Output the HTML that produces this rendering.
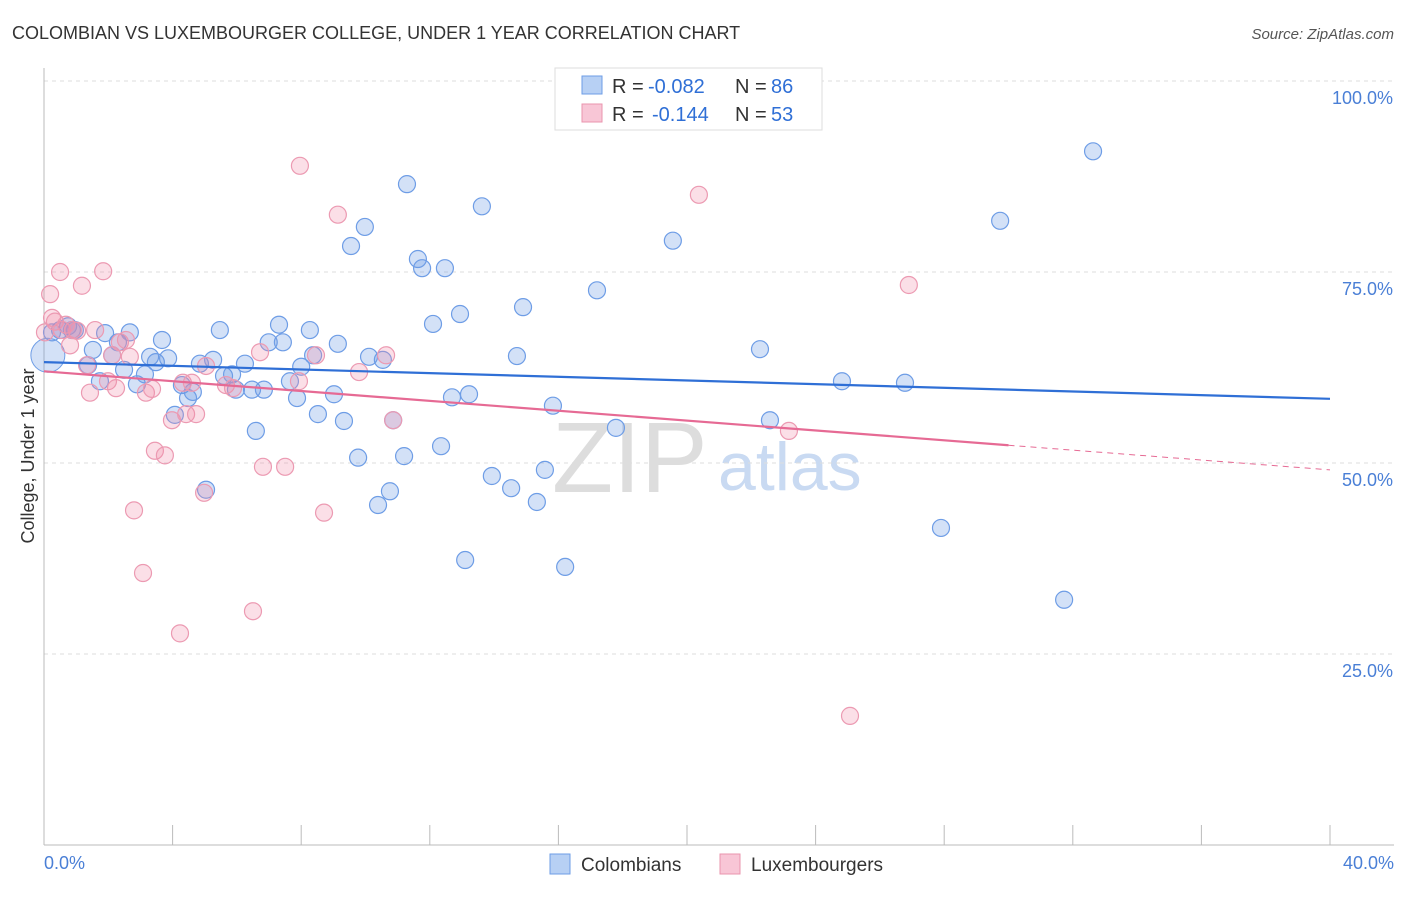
<!DOCTYPE html>
<html><head><meta charset="utf-8"><style>
body{margin:0;background:#fff;font-family:"Liberation Sans",sans-serif;}
svg text{font-family:"Liberation Sans",sans-serif;}
</style></head><body>
<svg id="c" width="1406" height="892" xmlns="http://www.w3.org/2000/svg">
<text x="12" y="39" font-size="18" fill="#333">COLOMBIAN VS LUXEMBOURGER COLLEGE, UNDER 1 YEAR CORRELATION CHART</text>
<text x="1394" y="39" font-size="15" fill="#555" text-anchor="end" font-style="italic">Source: ZipAtlas.com</text>
<text x="552" y="492" font-size="100" fill="#ddd" font-family="Liberation Serif">ZIP</text>
<text x="718" y="490" font-size="68" fill="#c9daf2">atlas</text>
<g id="grid"></g><g id="pts"></g><g id="lines"></g>
<text transform="translate(34,456) rotate(-90)" font-size="18" fill="#333" text-anchor="middle">College, Under 1 year</text>
<text x="44" y="869" font-size="18" fill="#4a7fd6">0.0%</text>
<text x="1394" y="869" font-size="18" fill="#4a7fd6" text-anchor="end">40.0%</text>
<g>
<rect x="555" y="68" width="267" height="62" fill="#fff" stroke="#ddd"/>
<rect x="582" y="76" width="20" height="18" fill="#b7d0f4" stroke="#6e9de6"/>
<rect x="582" y="104" width="20" height="18" fill="#f8c6d6" stroke="#ea94ae"/>
<text x="612" y="93" font-size="20" fill="#333">R =</text>
<text x="648" y="93" font-size="20" fill="#2f6fd6">-0.082</text>
<text x="735" y="93" font-size="20" fill="#333">N =</text>
<text x="771" y="93" font-size="20" fill="#2f6fd6">86</text>
<text x="612" y="121" font-size="20" fill="#333">R =</text>
<text x="652" y="121" font-size="20" fill="#2f6fd6">-0.144</text>
<text x="735" y="121" font-size="20" fill="#333">N =</text>
<text x="771" y="121" font-size="20" fill="#2f6fd6">53</text>
</g>
<g>
<rect x="550" y="854" width="20" height="20" fill="#b7d0f4" stroke="#6e9de6"/>
<text x="581" y="871" font-size="19" fill="#333">Colombians</text>
<rect x="720" y="854" width="20" height="20" fill="#f8c6d6" stroke="#ea94ae"/>
<text x="751" y="871" font-size="19" fill="#333">Luxembourgers</text>
</g>
</svg>
<script>
const yTicks=[25,50,75,100];
const yTickLabels=["25.0%","50.0%","75.0%","100.0%"];
const xTicks=[0,4,8,12,16,20,24,28,32,36,40];
const blueX=[0.25,0.5,0.75,0.96,0.87,1.52,1.37,1.74,1.9,2.12,2.3,2.49,2.67,2.89,3.14,3.3,3.48,3.67,3.86,4.07,4.29,4.48,4.63,4.85,5.04,5.26,5.47,5.6,5.85,5.97,6.25,6.47,6.59,6.84,6.99,7.31,7.43,7.65,7.87,8.0,8.27,8.37,8.52,9.02,9.14,9.33,9.55,9.77,9.98,10.11,10.39,10.54,10.76,10.86,11.2,11.29,11.63,11.76,12.1,12.35,12.47,12.69,12.94,13.1,13.22,13.62,13.93,14.53,14.71,14.9,15.33,15.58,15.83,16.21,17.2,17.79,19.56,22.27,22.58,24.82,26.78,27.9,29.74,31.73,32.63];
const blueY=[67.1,67.4,67.9,67.4,67.4,64.8,62.8,60.7,67.0,64.1,65.8,62.2,67.1,60.3,61.6,63.9,63.2,66.1,63.7,56.3,60.2,58.5,59.3,63.0,46.5,63.5,67.4,61.4,61.6,59.6,63.0,59.6,54.2,59.6,65.8,68.1,65.8,60.7,58.5,62.6,67.4,64.1,56.4,59.0,65.6,55.5,78.4,50.7,80.9,63.9,44.5,63.5,46.3,55.6,50.9,86.5,76.7,75.5,68.2,52.2,75.5,58.6,69.5,37.3,59.0,83.6,48.3,46.7,64.0,70.4,44.9,49.1,57.5,36.4,72.6,54.6,79.1,64.9,55.6,60.7,60.5,41.5,81.7,32.1,90.8];
const pinkX=[0.19,0.5,0.25,0.34,0.56,0.81,1.03,1.18,1.34,1.43,1.59,1.84,1.99,2.12,2.24,2.36,2.55,2.67,2.8,3.08,3.17,3.36,3.45,3.76,3.98,4.23,4.32,4.42,4.6,4.73,4.98,5.04,5.66,5.88,6.5,6.72,6.81,7.5,7.93,7.96,8.46,8.71,9.14,9.8,10.64,10.86,20.37,23.17,25.07,26.9,0.68,0.9,0.03];
const pinkY=[72.1,75.0,69.0,68.5,67.4,65.4,67.3,73.2,62.8,59.2,67.4,75.1,60.7,64.1,59.8,65.8,66.1,63.9,43.8,35.6,59.2,59.7,51.6,51.0,55.6,27.7,60.5,56.4,60.5,56.4,46.1,62.7,60.2,59.8,30.6,64.5,49.5,49.5,60.7,88.9,64.1,43.5,82.5,61.9,64.1,55.6,85.1,54.2,16.9,73.3,68.1,67.4,67.1];
const blueTrend=[63.2,58.4];
const pinkTrend=[62.0,49.1];
const pinkSolidEnd=30;
const X=v=>44+v*32.15, Y=v=>845-v*7.64;
const NS="http://www.w3.org/2000/svg";
function mk(t,a,p){const e=document.createElementNS(NS,t);for(const k in a)e.setAttribute(k,a[k]);p.appendChild(e);return e;}
const g=document.getElementById('grid');
yTicks.forEach((t,i)=>{
 const l=mk('line',{x1:44,x2:1394,y1:Y(t),y2:Y(t),stroke:'#ddd','stroke-dasharray':'4,4'},g);
 
 
 const tx=mk('text',{x:1393,y:Y(t)+23,'font-size':18,fill:'#4a7fd6','text-anchor':'end'},g);
 tx.textContent=yTickLabels[i];
 
 
});
const ax=mk('line',{x1:44,x2:1394,y1:845,y2:845,stroke:'#bbb'},g);


const ay=mk('line',{x1:44,x2:44,y1:68,y2:845,stroke:'#bbb'},g);


xTicks.forEach(t=>{
 const l=mk('line',{x1:X(t),x2:X(t),y1:825,y2:845,stroke:'#bbb'},g);
 
 
});
const p=document.getElementById('pts');
const big=mk('circle',{cx:X(0.12),cy:Y(64.1),r:17,fill:'rgba(110,157,230,0.3)',stroke:'#6e9de6'},p);


blueX.forEach((x,i)=>{
 const c=mk('circle',{cx:X(x),cy:Y(blueY[i]),r:8.5,fill:'rgba(110,157,230,0.3)',stroke:'#6e9de6','stroke-width':1.2},p);
 
 
});
pinkX.forEach((x,i)=>{
 const c=mk('circle',{cx:X(x),cy:Y(pinkY[i]),r:8.5,fill:'rgba(240,140,170,0.28)',stroke:'#ec9ab2','stroke-width':1.2},p);
 
 
});
const L=document.getElementById('lines');
const bl=mk('line',{x1:X(0),y1:Y(blueTrend[0]),x2:X(40),y2:Y(blueTrend[1]),stroke:'#2f6fd6','stroke-width':2.2},L);


const pm=pinkTrend[0]+(pinkTrend[1]-pinkTrend[0])*pinkSolidEnd/40;
const pl=mk('line',{x1:X(0),y1:Y(pinkTrend[0]),x2:X(pinkSolidEnd),y2:Y(pm),stroke:'#e66a94','stroke-width':2.2},L);


const pd=mk('line',{x1:X(pinkSolidEnd),y1:Y(pm),x2:X(40),y2:Y(pinkTrend[1]),stroke:'#e66a94','stroke-width':1,'stroke-dasharray':'6,5'},L);


</script>
</body></html>
